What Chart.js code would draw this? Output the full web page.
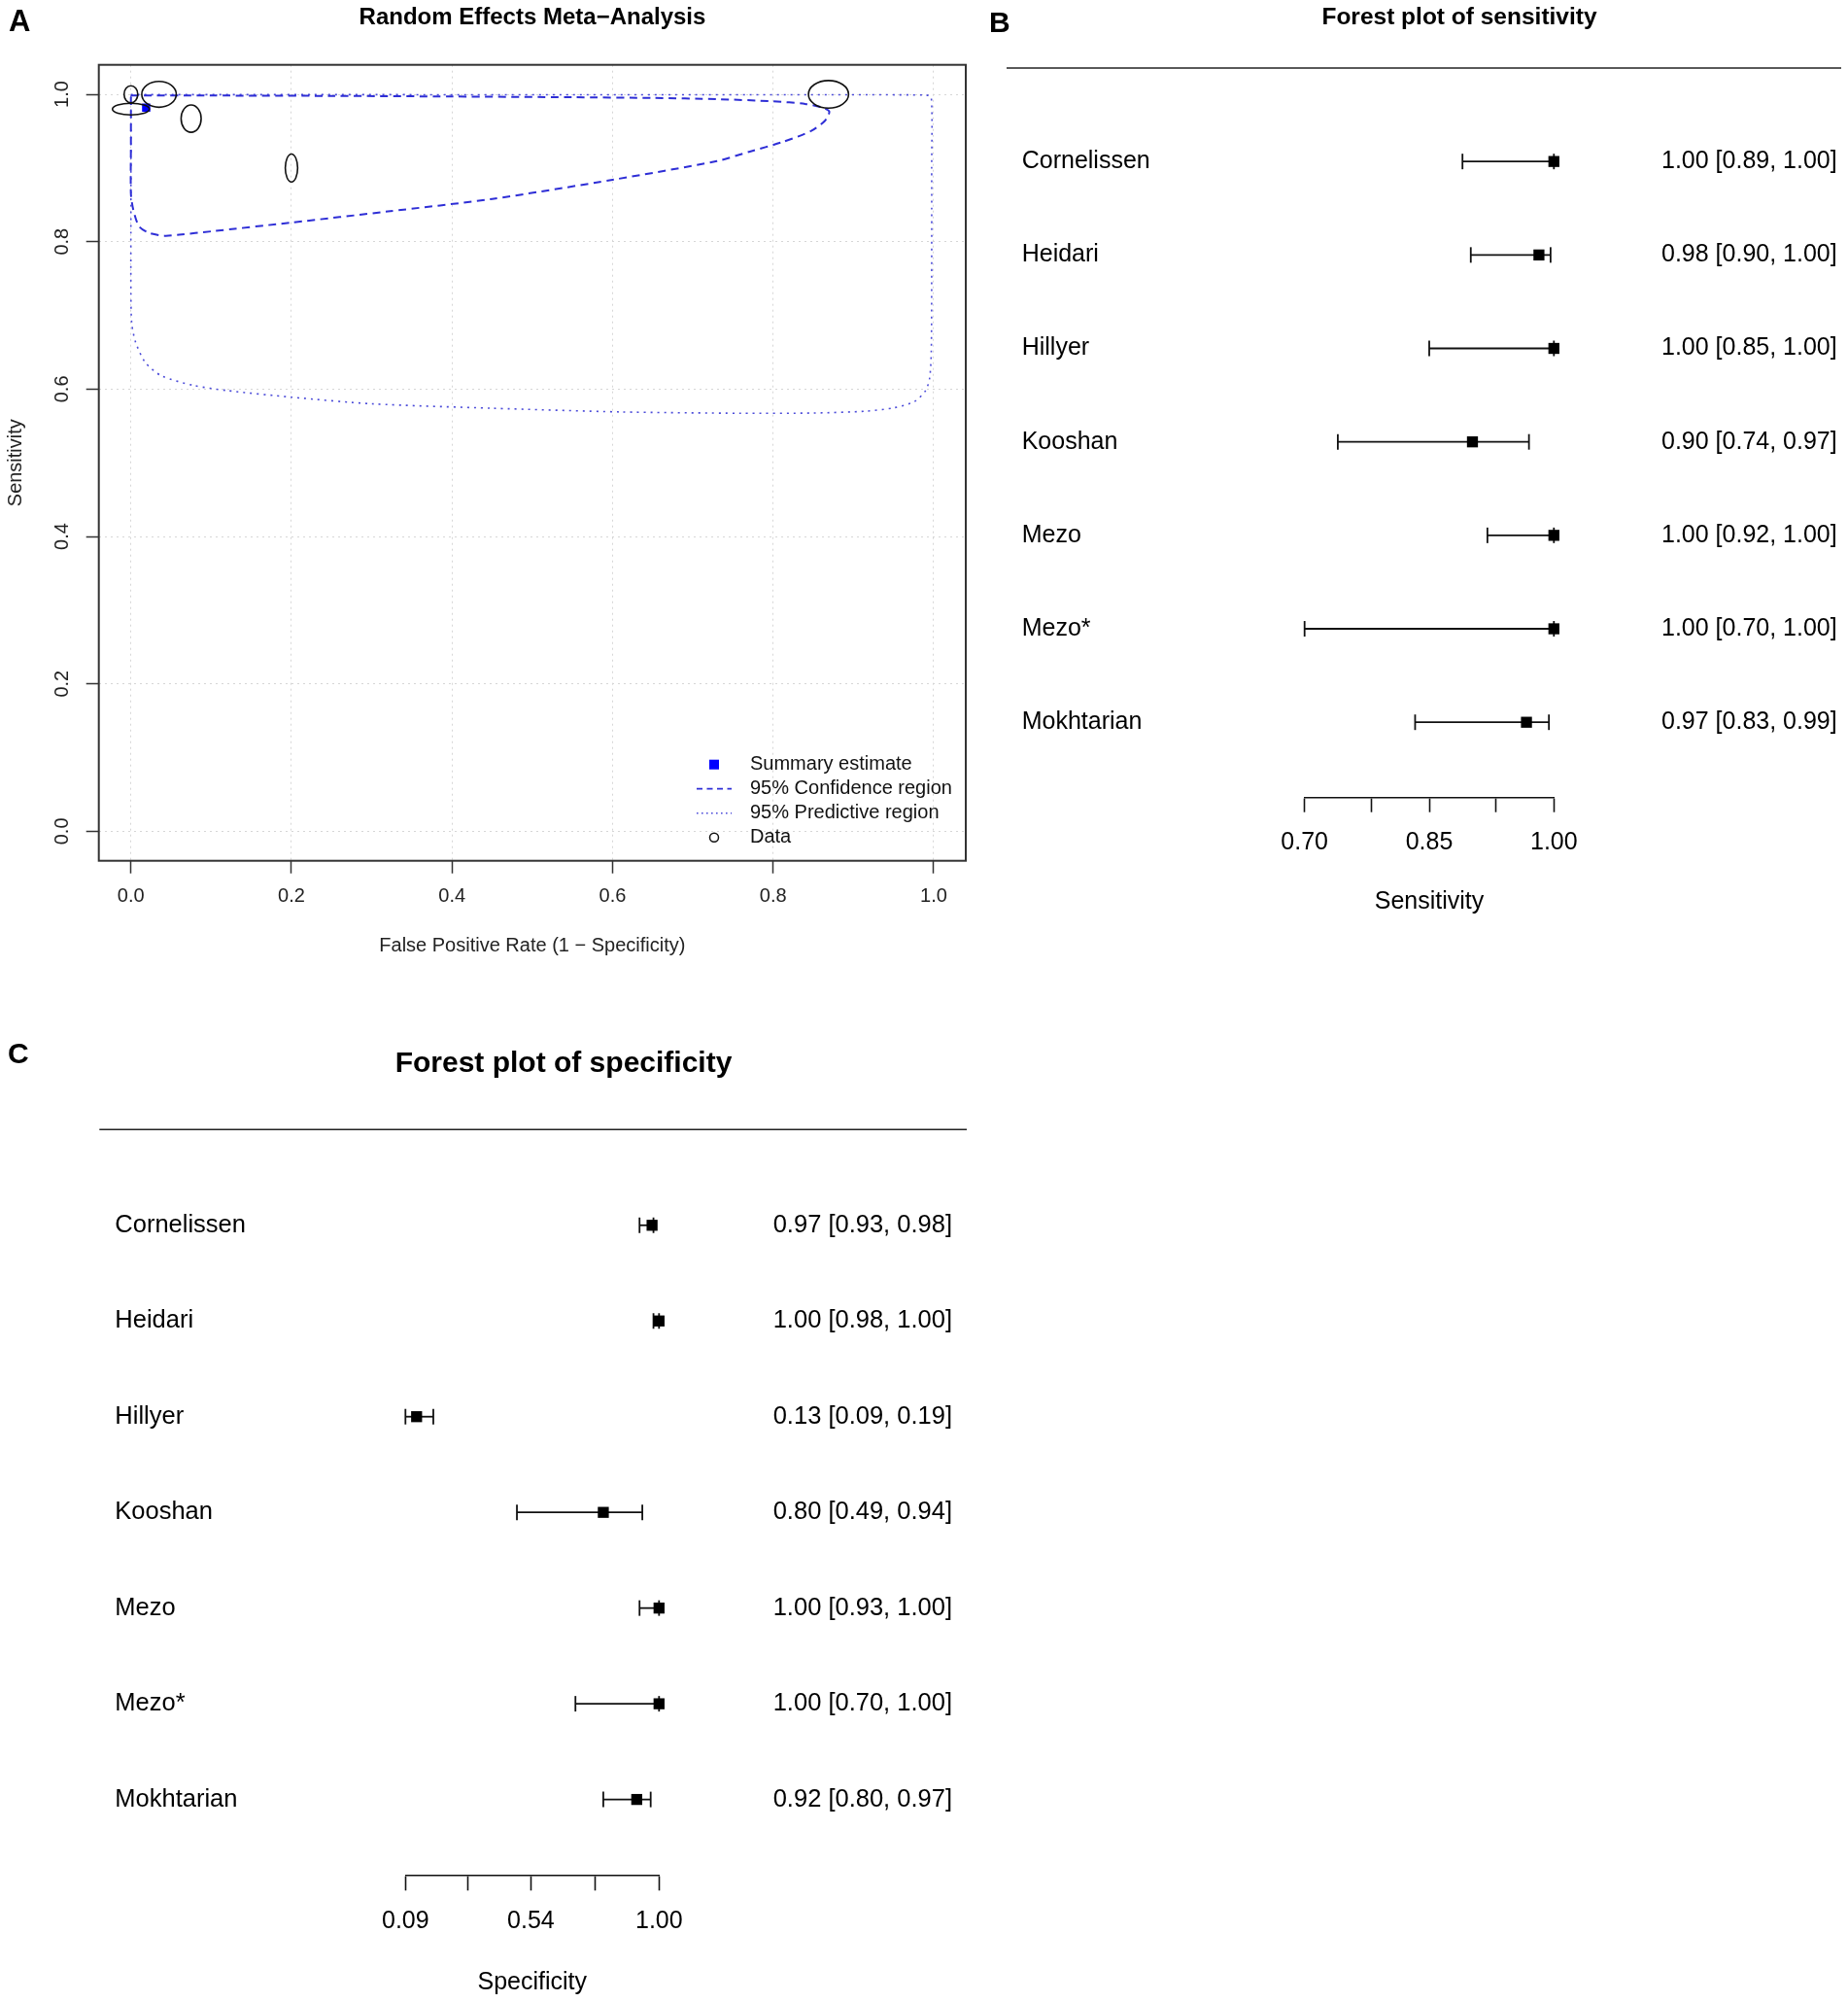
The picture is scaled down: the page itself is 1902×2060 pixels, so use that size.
<!DOCTYPE html>
<html>
<head>
<meta charset="utf-8">
<script src="https://cdn.jsdelivr.net/npm/chart.js@4.4.1/dist/chart.umd.min.js"></script>
<style>
  body { margin: 0; background: #fff; width: 1902px; height: 2060px; position: relative; overflow: hidden;
         font-family: "Liberation Sans", Arial, Helvetica, sans-serif; }
  .panel { position: absolute; }
  .lbl { position: absolute; z-index: 2; font-weight: bold; white-space: nowrap; line-height: 1; color: #000; }
</style>
</head>
<body>
<div class="panel" style="left:0;top:0;width:1000px;height:1000px"><canvas id="roc"></canvas></div>
<div class="panel" style="left:1000px;top:0;width:902px;height:1000px"><canvas id="sens"></canvas></div>
<div class="panel" style="left:0;top:1040px;width:1000px;height:1020px"><canvas id="spec"></canvas></div>

<div class="lbl" style="left:9px;top:6px;font-size:31px">A</div>
<div class="lbl" style="left:248px;width:600px;text-align:center;top:5px;font-size:24px">Random Effects Meta−Analysis</div>
<div class="lbl" style="left:1018px;top:8px;font-size:30px">B</div>
<div class="lbl" style="left:1202px;width:600px;text-align:center;top:5px;font-size:24.5px">Forest plot of sensitivity</div>
<div class="lbl" style="left:8px;top:1069px;font-size:30px">C</div>
<div class="lbl" style="left:280px;width:600px;text-align:center;top:1078px;font-size:30px">Forest plot of specificity</div>

<script>
// ---- Panel A: SROC plot ----
const axisTicks = [0, 0.2, 0.4, 0.6, 0.8, 1.0];

// study data ellipses (centre and half-axes in data units)
const studyFpr  = [0.000, 0.000, 0.035, 0.075, 0.200, 0.869];
const studySens = [1.000, 0.980, 1.000, 0.967, 0.900, 1.000];
const studyRx   = [0.0085, 0.023, 0.0215, 0.0125, 0.0077, 0.025];
const studyRy   = [0.0115, 0.0079, 0.0176, 0.0185, 0.0189, 0.0187];

const summaryFpr  = [0.019];
const summarySens = [0.982];

// 95% confidence region outline
const crFpr  = [0.000, 0.100, 0.250, 0.400, 0.550, 0.650, 0.730, 0.800, 0.840, 0.860, 0.870,
                0.864, 0.847, 0.811, 0.770, 0.730, 0.600, 0.450, 0.320, 0.200, 0.100, 0.060,
                0.042, 0.022, 0.010, 0.003, 0.000, 0.000, 0.000];
const crSens = [0.9985, 0.9983, 0.9978, 0.9970, 0.9960, 0.9950, 0.9934, 0.9905, 0.9870, 0.9825, 0.9766,
                0.9635, 0.9500, 0.9350, 0.9220, 0.9094, 0.8840, 0.8580, 0.8410, 0.8260, 0.8140, 0.8095,
                0.8080, 0.8120, 0.8210, 0.8430, 0.8650, 0.9300, 0.9985];

// 95% predictive region outline
const prFpr  = [0.000, 0.300, 0.700, 0.990, 0.997, 0.9975, 0.9975, 0.997, 0.995, 0.990, 0.976, 0.950,
                0.915, 0.850, 0.760, 0.610, 0.450, 0.300, 0.200, 0.120, 0.078, 0.038, 0.018, 0.006,
                0.001, 0.000, 0.000, 0.000];
const prSens = [0.9995, 0.9995, 0.9993, 0.9990, 0.9960, 0.9000, 0.7500, 0.6500, 0.6150, 0.5980, 0.5830, 0.5745,
                0.5700, 0.5675, 0.5672, 0.5690, 0.5740, 0.5800, 0.5890, 0.5980, 0.6050, 0.6180, 0.6360, 0.6630,
                0.6890, 0.7330, 0.8500, 0.9995];

const legendLabels = ['Summary estimate', '95% Confidence region', '95% Predictive region', 'Data'];

// ---- Panels B and C: forest plots ----
const studies = ['Cornelissen', 'Heidari', 'Hillyer', 'Kooshan', 'Mezo', 'Mezo*', 'Mokhtarian'];

const sensEst = [1.000, 0.982, 1.000, 0.902, 1.000, 1.000, 0.967];
const sensLo  = [0.890, 0.900, 0.850, 0.740, 0.920, 0.700, 0.833];
const sensHi  = [1.000, 0.996, 1.000, 0.970, 1.000, 1.000, 0.994];
const sensText = ['1.00 [0.89, 1.00]', '0.98 [0.90, 1.00]', '1.00 [0.85, 1.00]', '0.90 [0.74, 0.97]',
                  '1.00 [0.92, 1.00]', '1.00 [0.70, 1.00]', '0.97 [0.83, 0.99]'];
const sensTicks = [0.70, 0.78, 0.85, 0.93, 1.00];
const sensTickLabels = ['0.70', '', '0.85', '', '1.00'];

const specEst = [0.975, 1.000, 0.130, 0.800, 1.000, 1.000, 0.920];
const specLo  = [0.930, 0.980, 0.090, 0.490, 0.930, 0.700, 0.800];
const specHi  = [0.980, 1.000, 0.190, 0.940, 1.000, 1.000, 0.970];
const specText = ['0.97 [0.93, 0.98]', '1.00 [0.98, 1.00]', '0.13 [0.09, 0.19]', '0.80 [0.49, 0.94]',
                  '1.00 [0.93, 1.00]', '1.00 [0.70, 1.00]', '0.92 [0.80, 0.97]'];
const specTicks = [0.09, 0.315, 0.54, 0.77, 1.00];
const specTickLabels = ['0.09', '', '0.54', '', '1.00'];

Chart.defaults.font.family = '"Liberation Sans", Arial, Helvetica, sans-serif';
Chart.defaults.color = '#000';
Chart.defaults.animation = false;

const toPoints = (xs, ys) => xs.map((x, i) => ({ x: x, y: ys[i] }));

// ellipses, plot box and legend for the SROC panel
const rocExtras = {
  id: 'rocExtras',
  afterDatasetsDraw(chart) {
    const { ctx, chartArea: a, scales: { x, y } } = chart;
    ctx.save();
    ctx.strokeStyle = '#111';
    ctx.lineWidth = 1.6;
    studyFpr.forEach((fx, i) => {
      const cx = x.getPixelForValue(fx);
      const cy = y.getPixelForValue(studySens[i]);
      const rx = Math.abs(x.getPixelForValue(fx + studyRx[i]) - cx);
      const ry = Math.abs(y.getPixelForValue(studySens[i] + studyRy[i]) - cy);
      ctx.beginPath();
      ctx.ellipse(cx, cy, rx, ry, 0, 0, Math.PI * 2);
      ctx.stroke();
    });

    ctx.strokeStyle = '#333';
    ctx.lineWidth = 2;
    ctx.strokeRect(a.left, a.top, a.right - a.left, a.bottom - a.top);

    // legend, bottom right
    const sx = a.right - 259;
    const tx = a.right - 222;
    const y0 = a.bottom - 99;
    ctx.font = '20px "Liberation Sans", Arial, sans-serif';
    ctx.fillStyle = '#111';
    ctx.textBaseline = 'middle';
    legendLabels.forEach((t, k) => ctx.fillText(t, tx, y0 + k * 25));

    ctx.fillStyle = '#0000ff';
    ctx.fillRect(sx - 5, y0 - 5, 10, 10);

    ctx.strokeStyle = '#2e2ed6';
    ctx.lineWidth = 1.8;
    ctx.setLineDash([6, 4.5]);
    ctx.beginPath(); ctx.moveTo(sx - 18, y0 + 25); ctx.lineTo(sx + 18, y0 + 25); ctx.stroke();
    ctx.strokeStyle = '#4b4bd9';
    ctx.lineWidth = 1.5;
    ctx.setLineDash([1.6, 3.4]);
    ctx.beginPath(); ctx.moveTo(sx - 18, y0 + 50); ctx.lineTo(sx + 18, y0 + 50); ctx.stroke();
    ctx.setLineDash([]);
    ctx.strokeStyle = '#111';
    ctx.lineWidth = 1.5;
    ctx.beginPath(); ctx.arc(sx, y0 + 75, 4.5, 0, Math.PI * 2); ctx.stroke();
    ctx.restore();
  }
};

new Chart(document.getElementById('roc'), {
  type: 'scatter',
  data: {
    datasets: [
      {
        label: 'Summary estimate',
        data: toPoints(summaryFpr, summarySens),
        pointStyle: 'rect', pointRadius: 6,
        backgroundColor: '#0000ff', borderColor: '#0000ff', borderWidth: 0,
        order: 0
      },
      {
        label: '95% Confidence region',
        data: toPoints(crFpr, crSens),
        showLine: true, borderColor: '#2e2ed6', borderWidth: 2, borderDash: [8, 5.5],
        pointRadius: 0, tension: 0.25, order: 1
      },
      {
        label: '95% Predictive region',
        data: toPoints(prFpr, prSens),
        showLine: true, borderColor: '#4b4bd9', borderWidth: 1.6, borderDash: [2, 5],
        pointRadius: 0, tension: 0.25, order: 2
      }
    ]
  },
  options: {
    responsive: true,
    maintainAspectRatio: false,
    animation: false,
    layout: { padding: { top: 66.7, right: 5, left: 0, bottom: 0 } },
    plugins: { legend: { display: false }, tooltip: { enabled: false } },
    scales: {
      x: {
        type: 'linear', min: -0.04, max: 1.04,
        afterBuildTicks: s => { s.ticks = axisTicks.map(v => ({ value: v })); },
        afterFit: s => { s.height = 114.3; },
        grid: { color: '#d6d6d6', lineWidth: 1, tickColor: '#333', tickLength: 13, tickWidth: 1.5 },
        border: { display: false, dash: [2, 4] },
        ticks: { font: { size: 20 }, color: '#222', padding: 12, autoSkip: false, maxRotation: 0,
                 callback: v => v.toFixed(1) },
        title: { display: true, text: 'False Positive Rate (1 − Specificity)', color: '#222',
                 font: { size: 20 }, padding: { top: 0, bottom: 15 } }
      },
      y: {
        type: 'linear', min: -0.04, max: 1.04,
        afterBuildTicks: s => { s.ticks = axisTicks.map(v => ({ value: v })); },
        afterFit: s => { s.width = 101.7; },
        grid: { color: '#d6d6d6', lineWidth: 1, tickColor: '#333', tickLength: 13, tickWidth: 1.5 },
        border: { display: false, dash: [2, 4] },
        ticks: { font: { size: 20 }, color: '#222', padding: 10, autoSkip: false,
                 minRotation: 90, maxRotation: 90, crossAlign: 'center',
                 callback: v => v.toFixed(1) },
        title: { display: true, text: 'Sensitivity', color: '#222',
                 font: { size: 20 }, padding: { top: 4, bottom: 0 } }
      }
    }
  },
  plugins: [rocExtras]
});

// rule across the top of a forest plot
const topRule = {
  id: 'topRule',
  afterDraw(chart, args, opts) {
    const { ctx } = chart;
    const y = chart.scales.y.getPixelForValue(opts.row);
    ctx.save();
    ctx.strokeStyle = '#222';
    ctx.lineWidth = 1.5;
    ctx.beginPath();
    ctx.moveTo(opts.left, y);
    ctx.lineTo(opts.right, y);
    ctx.stroke();
    ctx.restore();
  }
};

function forestChart(id, cfg) {
  const n = studies.length;
  const rows = studies.map((s, i) => n - i);

  const ciSets = cfg.lo.map((lo, i) => ({
    data: [{ x: lo, y: rows[i] }, { x: cfg.hi[i], y: rows[i] }],
    showLine: true, borderColor: '#111', borderWidth: 1.8,
    pointStyle: 'line', pointRotation: 90, pointRadius: 8,
    pointBorderColor: '#111', pointBorderWidth: 1.8,
    clip: false, order: 1
  }));
  const estSet = {
    data: toPoints(cfg.est, rows),
    pointStyle: 'rect', pointRadius: 8,
    backgroundColor: '#000', borderColor: '#000', borderWidth: 0,
    clip: false, order: 0
  };

  const rowAxis = (pos, width, labels) => ({
    type: 'linear', position: pos, display: true, min: cfg.ymin, max: n + 1,
    afterBuildTicks: s => { s.ticks = rows.map(v => ({ value: v })); },
    afterFit: s => { s.width = width; },
    grid: { display: false },
    border: { display: false },
    ticks: { autoSkip: false, crossAlign: 'far', padding: 0, font: { size: cfg.fontSize }, color: '#000',
             callback: v => labels[n - v] }
  });

  return new Chart(document.getElementById(id), {
    type: 'scatter',
    data: { datasets: [estSet].concat(ciSets) },
    options: {
      responsive: true,
      maintainAspectRatio: false,
      animation: false,
      layout: { padding: cfg.padding },
      plugins: {
        legend: { display: false },
        tooltip: { enabled: false },
        topRule: { row: n + 1, left: cfg.ruleLeft, right: cfg.ruleRight }
      },
      scales: {
        x: {
          type: 'linear', min: cfg.xmin, max: cfg.xmax,
          afterBuildTicks: s => { s.ticks = cfg.ticks.map(v => ({ value: v })); },
          afterFit: s => { s.height = cfg.xAxisHeight; },
          grid: { drawOnChartArea: false, drawTicks: true, tickLength: cfg.tickLength,
                  tickColor: '#111', tickWidth: 1.6 },
          border: { display: true, color: '#111', width: 1.6 },
          ticks: { autoSkip: false, maxRotation: 0, font: { size: 25 }, color: '#000',
                   padding: cfg.tickPad, callback: (v, i) => cfg.tickLabels[i] },
          title: { display: true, text: cfg.axisTitle, font: { size: 25 }, color: '#000',
                   padding: { top: 0, bottom: cfg.titlePad } }
        },
        y: rowAxis('left', cfg.leftWidth, studies),
        y2: rowAxis('right', cfg.rightWidth, cfg.text)
      }
    },
    plugins: [topRule]
  });
}

forestChart('sens', {
  est: sensEst, lo: sensLo, hi: sensHi, text: sensText,
  ticks: sensTicks, tickLabels: sensTickLabels, xmin: 0.70, xmax: 1.00, ymin: 0.194,
  axisTitle: 'Sensitivity', fontSize: 25,
  padding: { left: 51.7, right: 11.3, top: 70, bottom: 0 },
  leftWidth: 291, rightWidth: 291.4, xAxisHeight: 179.3,
  tickLength: 15, tickPad: 16, titlePad: 57,
  ruleLeft: 36, ruleRight: 895
});

forestChart('spec', {
  est: specEst, lo: specLo, hi: specHi, text: specText,
  ticks: specTicks, tickLabels: specTickLabels, xmin: 0.09, xmax: 1.00, ymin: 0.211,
  axisTitle: 'Specificity', fontSize: 25.5,
  padding: { left: 118.3, right: 20, top: 122.3, bottom: 0 },
  leftWidth: 299, rightWidth: 301.7, xAxisHeight: 130.7,
  tickLength: 16, tickPad: 16.4, titlePad: 5,
  ruleLeft: 102.3, ruleRight: 995
});
</script>
</body>
</html>
